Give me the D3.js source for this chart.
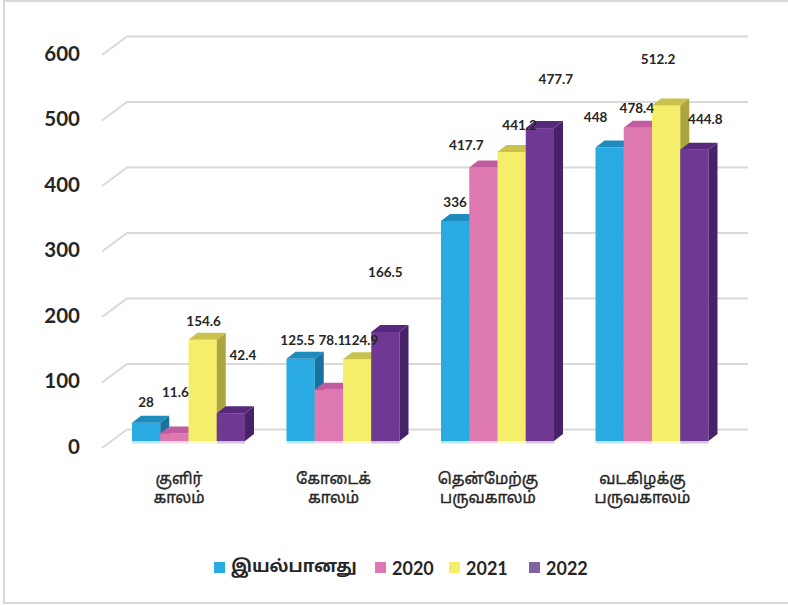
<!DOCTYPE html>
<html>
<head>
<meta charset="utf-8">
<script src="https://cdn.jsdelivr.net/npm/d3@7"></script>
<style>
  html, body { margin: 0; padding: 0; background: #fff; }
  svg { display: block; }
</style>
</head>
<body>
<svg id="chart" width="788" height="605"></svg>
<script>
// ---- data ----
const categories = [["குளிர்", "காலம்"], ["கோடைக்", "காலம்"], ["தென்மேற்கு", "பருவகாலம்"], ["வடகிழக்கு", "பருவகாலம்"]];
const seriesNames = ["இயல்பானது", "2020", "2021", "2022"];
const normalValues = [28, 125.5, 336, 448];
const values2020 = [11.6, 78.1, 417.7, 478.4];
const values2021 = [154.6, 124.9, 441.2, 512.2];
const values2022 = [42.4, 166.5, 477.7, 444.8];
const yTicks = [0, 100, 200, 300, 400, 500, 600];

// ---- layout / style ----
const seriesValues = [normalValues, values2020, values2021, values2022];
const frontColors = ["#29ABE2", "#DE78B0", "#F5EE6A", "#6E3893"];
const topColors   = ["#1E8BBE", "#C25CA0", "#C9C24C", "#57287C"];
const sideColors  = ["#17739E", "#A84E8C", "#ABA63E", "#482268"];
// manual label offsets (px) relative to the top-centre of each bar's front face: [series][category]
const labelDx = [[0, -3, 0, -14], [1, 3, -17, -1], [1, 4, 8, -8], [12, 0, 16, 11]];
const labelDy = [[-21, -19, -19, -31], [-41, -50, -22, -20], [-19, -19, -27, -47], [-58, -60, -49, -31]];

const svg = d3.select("#chart");
const depthX = 9, depthY = -7;
const txtColor = "#262626";
const numFont = "Lato, 'Open Sans', sans-serif";
const tamilFont = "'Noto Sans Tamil', 'Noto Sans', Lato, sans-serif";

// outer border
svg.append("rect").attr("x", 4).attr("y", 1).attr("width", 790).attr("height", 602)
  .attr("fill", "none").attr("stroke", "#d9d9d9").attr("stroke-width", 2);

const y = d3.scaleLinear().domain([0, 600]).range([441, 48]);

const catIdx = d3.range(categories.length);
const x0 = d3.scaleBand().domain(catIdx).range([90.5, 750]).paddingInner(0.2686).paddingOuter(0.2686);
const x1 = d3.scaleBand().domain(d3.range(seriesNames.length)).range([0, x0.bandwidth()]);

// gridlines (3D wall + floor style)
const grid = svg.append("g");
yTicks.forEach(t => {
  const yy = y(t);
  grid.append("path")
    .attr("d", `M102,${yy + 7} L127,${yy - 11.5} L748,${yy - 11.5}`)
    .attr("fill", "none").attr("stroke", "#d9d9d9").attr("stroke-width", 2);
});

// y axis labels
const yAxis = d3.axisLeft(y).tickValues(yTicks).tickSize(0).tickPadding(0);
const yg = svg.append("g").attr("transform", "translate(80,5)").call(yAxis);
yg.select(".domain").remove();
yg.selectAll("text").attr("font-family", numFont).attr("font-weight", "bold")
  .attr("font-size", "20.5px").attr("fill", txtColor).attr("dy", "0.36em");

// bars
const bars = svg.append("g");
catIdx.forEach(ci => {
  seriesValues.forEach((vals, si) => {
    const v = vals[ci];
    const bx = x0(ci) + x1(si);
    const bw = x1.bandwidth();
    const top = y(v), base = y(0);
    bars.append("rect").attr("x", bx).attr("y", base).attr("width", bw).attr("height", 2.5)
      .attr("fill", frontColors[si]).attr("opacity", 0.3);
    bars.append("rect").attr("x", bx).attr("y", top).attr("width", bw).attr("height", base - top)
      .attr("fill", frontColors[si]);
    bars.append("path")
      .attr("d", `M${bx + bw},${top} L${bx + bw + depthX},${top + depthY} L${bx + bw + depthX},${base + depthY} L${bx + bw},${base} Z`)
      .attr("fill", sideColors[si]);
    bars.append("path")
      .attr("d", `M${bx},${top} L${bx + depthX},${top + depthY} L${bx + bw + depthX},${top + depthY} L${bx + bw},${top} Z`)
      .attr("fill", topColors[si]);
  });
});

// value labels
const labels = svg.append("g");
catIdx.forEach(ci => {
  seriesValues.forEach((vals, si) => {
    const v = vals[ci];
    const cx = x0(ci) + x1(si) + x1.bandwidth() / 2;
    labels.append("text")
      .attr("x", cx + labelDx[si][ci]).attr("y", y(v) + labelDy[si][ci])
      .attr("text-anchor", "middle").attr("dominant-baseline", "central")
      .attr("font-family", numFont).attr("font-weight", "bold").attr("font-size", "13.5px")
      .attr("fill", txtColor).text(v);
  });
});

// category labels (centred on the floor's front edge)
const catLabels = svg.append("g");
catIdx.forEach(ci => {
  const cx = x0(ci) + x0.bandwidth() / 2 - 9.5;
  categories[ci].forEach((line, li) => {
    catLabels.append("text")
      .attr("x", cx).attr("y", 480 + li * 19)
      .attr("text-anchor", "middle").attr("dominant-baseline", "central")
      .attr("font-family", tamilFont).attr("font-size", "15.5px")
      .attr("fill", txtColor).attr("stroke", txtColor).attr("stroke-width", 0.4)
      .text(line);
  });
});

// legend
const legendX = [214, 375, 449, 529];
const legend = svg.append("g");
seriesNames.forEach((name, si) => {
  legend.append("rect").attr("x", legendX[si]).attr("y", 562).attr("width", 11).attr("height", 11)
    .attr("fill", si === 3 ? "#8064A2" : frontColors[si]);
  legend.append("text").attr("x", legendX[si] + 17).attr("y", 567.5)
    .attr("dominant-baseline", "central")
    .attr("font-family", si === 0 ? tamilFont : numFont)
    .attr("font-weight", "bold")
    .attr("font-size", si === 0 ? "17px" : "18px")
    .attr("fill", txtColor).text(name);
});
</script>
</body>
</html>
